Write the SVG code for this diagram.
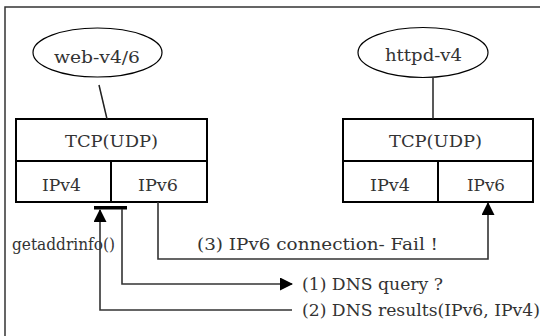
<svg xmlns="http://www.w3.org/2000/svg" width="540" height="336" viewBox="0 0 540 336">
<defs>
<style>
.t{font-family:'DejaVu Serif','Liberation Serif',serif;font-size:16px;fill:#333}
.box{fill:#fff;stroke:#000;stroke-width:2}
.ell{fill:#fff;stroke:#000;stroke-width:1.2}
.ln{fill:none;stroke:#222;stroke-width:1.5}
.c{fill:none;stroke:#333;stroke-width:1.6}
</style>
<marker id="ah" markerWidth="13" markerHeight="13" refX="12" refY="6.5" orient="auto" markerUnits="userSpaceOnUse">
<path d="M0,0 L13,6.5 L0,13 Z" fill="#000"/>
</marker>
</defs>
<rect x="0" y="0" width="540" height="336" fill="#fff"/>
<rect x="5" y="7" width="600" height="400" fill="none" stroke="#333" stroke-width="1.5"/>
<g id="web">
<ellipse class="ell" cx="97.5" cy="52.5" rx="64.5" ry="24.5"/>
<text class="t" x="54" y="63" textLength="86" lengthAdjust="spacingAndGlyphs">web-v4/6</text>
</g>
<g id="httpd">
<ellipse class="ell" cx="423" cy="52.5" rx="65" ry="25"/>
<text class="t" x="385" y="61" textLength="77" lengthAdjust="spacingAndGlyphs">httpd-v4</text>
</g>
<g id="stack-left">
<rect class="box" x="16" y="119" width="191" height="42"/>
<rect class="box" x="16" y="161" width="95" height="41"/>
<rect class="box" x="111" y="161" width="96" height="41"/>
<text class="t" x="65" y="147" textLength="93" lengthAdjust="spacingAndGlyphs">TCP(UDP)</text>
<text class="t" x="42" y="191" textLength="39" lengthAdjust="spacingAndGlyphs">IPv4</text>
<text class="t" x="138" y="191" textLength="40" lengthAdjust="spacingAndGlyphs">IPv6</text>
</g>
<g id="stack-right">
<rect class="box" x="343" y="119" width="190" height="42"/>
<rect class="box" x="343" y="161" width="95" height="41"/>
<rect class="box" x="438" y="161" width="95" height="41"/>
<text class="t" x="389" y="147" textLength="93" lengthAdjust="spacingAndGlyphs">TCP(UDP)</text>
<text class="t" x="370" y="191" textLength="40" lengthAdjust="spacingAndGlyphs">IPv4</text>
<text class="t" x="467" y="191" textLength="38" lengthAdjust="spacingAndGlyphs">IPv6</text>
</g>
<g id="getaddrinfo">
<rect x="94" y="206" width="33" height="3.5" fill="#000"/>
<text class="t" x="12" y="250" textLength="103" lengthAdjust="spacingAndGlyphs">getaddrinfo()</text>
</g>
<g id="connectors">
<line class="ln" x1="99" y1="85" x2="107" y2="119"/>
<line class="ln" x1="433" y1="78" x2="433" y2="119"/>
<polyline class="c" points="158,202 158,259 488,259 488,203" marker-end="url(#ah)"/>
<polyline class="c" points="122,209 122,284 292,284" marker-end="url(#ah)"/>
<polyline class="c" points="292,310 100,310 100,210" marker-end="url(#ah)"/>
</g>
<text class="t" x="197" y="250" textLength="241" lengthAdjust="spacingAndGlyphs">(3) IPv6 connection- Fail !</text>
<text class="t" x="302" y="290" textLength="141" lengthAdjust="spacingAndGlyphs">(1) DNS query ?</text>
<text class="t" x="302" y="316" textLength="238" lengthAdjust="spacingAndGlyphs">(2) DNS results(IPv6, IPv4)</text>
</svg>
